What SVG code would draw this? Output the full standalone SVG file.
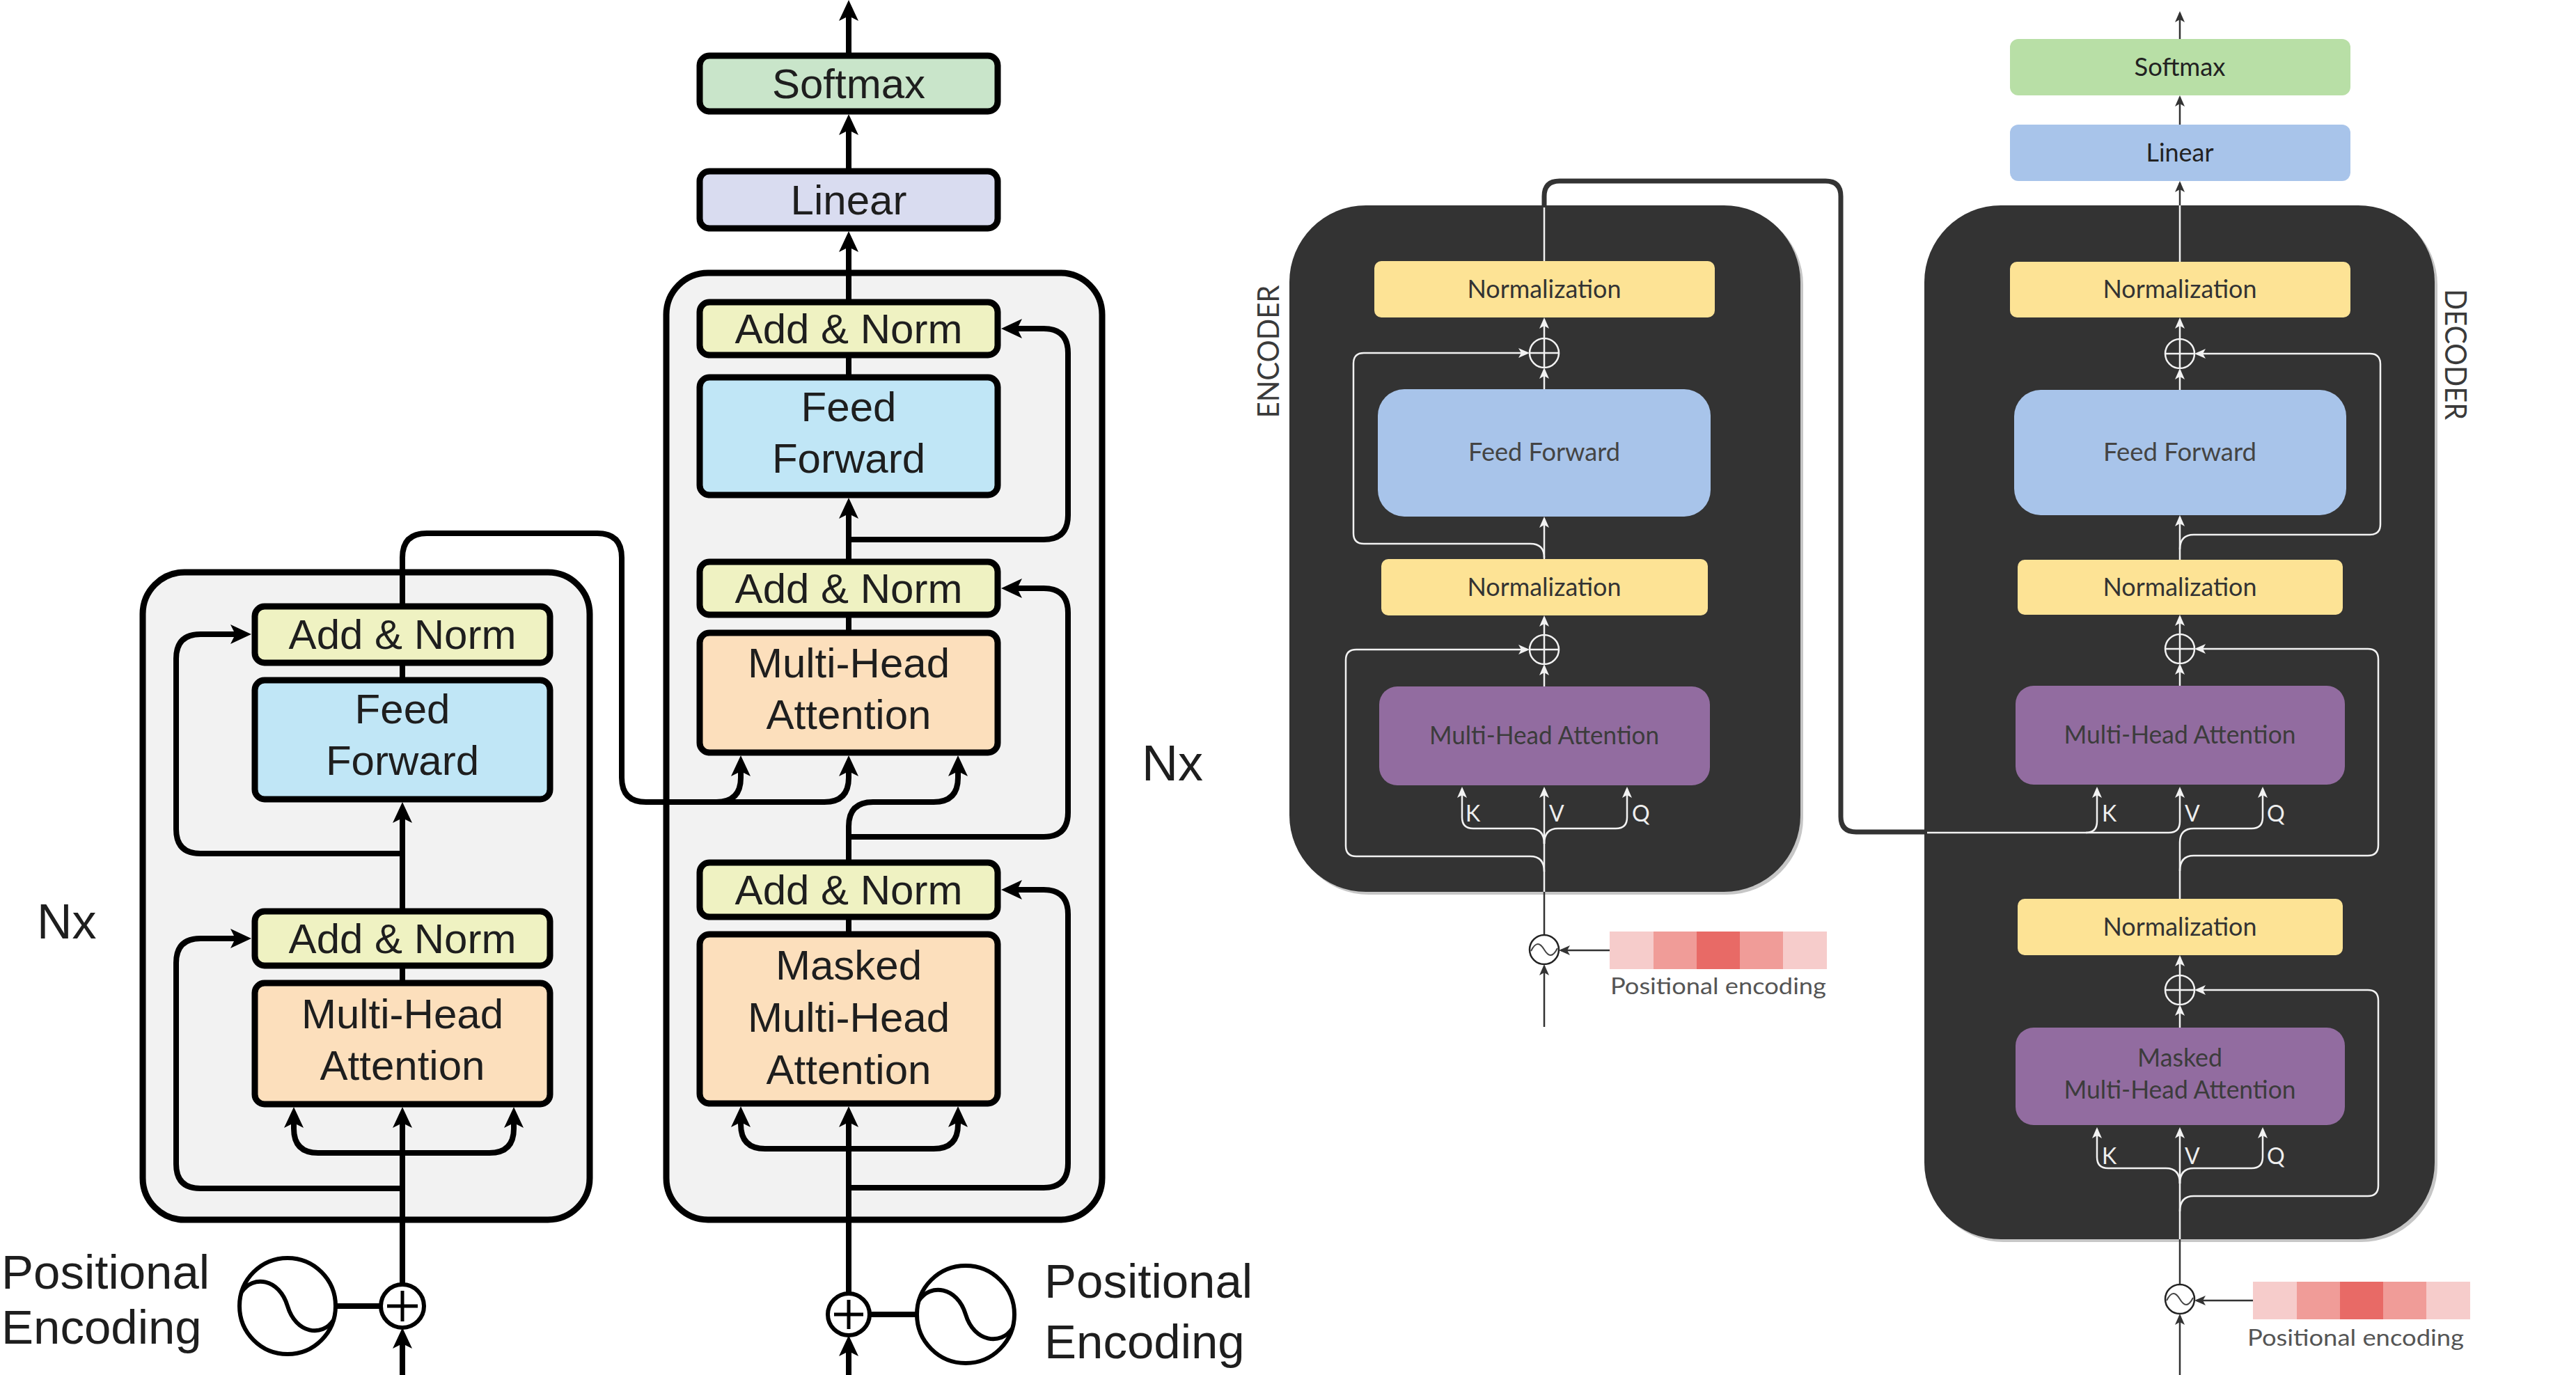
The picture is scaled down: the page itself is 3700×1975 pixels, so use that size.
<svg xmlns="http://www.w3.org/2000/svg" width="3700" height="1975" viewBox="0 0 3700 1975">
<style>
  .lt { font-family: "Liberation Sans", Arial, Helvetica, sans-serif; font-size: 60px; fill: #1e1e1e; text-anchor: middle; }
  .lbig { font-family: "Liberation Sans", Arial, Helvetica, sans-serif; font-size: 69px; fill: #1e1e1e; }
  .lbox { stroke: #000; stroke-width: 9; }
  .cont { fill: #f2f2f2; stroke: #000; stroke-width: 9; }
  .an { fill: #eff2c2; }
  .ff { fill: #c0e6f6; }
  .mh { fill: #fcdfbc; }
  .sm { fill: #c9e5ca; }
  .ln { fill: #d9dcf0; }
  .bl { fill: none; stroke: #000; stroke-width: 8; }
  .sym { fill: #fff; stroke: #000; stroke-width: 6; }
  .symw { fill: none; stroke: #000; stroke-width: 6; }
  .dark { fill: #333333; }
  .shadow { fill: #c6c6c6; }
  .rt { font-family: Lato, "Open Sans", "Noto Sans", sans-serif; font-size: 36px; text-anchor: middle; }
  .norm { fill: #fde395; }
  .rff { fill: #a8c4ea; }
  .rmh { fill: #926ca0; }
  .rsm { fill: #b8dfa6; }
  .wl { fill: none; stroke: #f2f2f2; stroke-width: 2.5; }
  .dl { fill: none; stroke: #333; stroke-width: 2.5; }
  .kvq { font-family: Lato, "Open Sans", "Noto Sans", sans-serif; font-size: 32px; fill: #eeeeee; }
  .side { font-family: Lato, "Open Sans", "Noto Sans", sans-serif; font-size: 42px; fill: #3a3a3a; text-anchor: middle; }
  .pe { font-family: Lato, "Open Sans", "Noto Sans", sans-serif; font-size: 32px; fill: #555; }
</style>
<defs>
  <marker id="ab" viewBox="0 0 30 28" refX="20" refY="14" markerWidth="30" markerHeight="28" markerUnits="userSpaceOnUse" orient="auto">
    <path d="M0,0 L30,14 L0,28 L7,14 z" fill="#000"/>
  </marker>
  <marker id="aw" viewBox="0 0 16 14" refX="13" refY="7" markerWidth="16" markerHeight="14" markerUnits="userSpaceOnUse" orient="auto">
    <path d="M0,0 L16,7 L0,14 L4,7 z" fill="#f2f2f2"/>
  </marker>
  <marker id="ad" viewBox="0 0 16 14" refX="13" refY="7" markerWidth="16" markerHeight="14" markerUnits="userSpaceOnUse" orient="auto">
    <path d="M0,0 L16,7 L0,14 L4,7 z" fill="#333"/>
  </marker>
</defs>

<rect width="3700" height="1975" fill="#ffffff"/>

<!-- ===== containers ===== -->
<g id="left-encoder-stack">
  <rect class="cont" x="205" y="822" width="642" height="930" rx="60"/>
</g>
<g id="left-decoder-stack">
  <rect class="cont" x="957" y="392" width="626" height="1360" rx="60"/>
</g>
<g id="right-encoder-stack">
  <rect class="shadow" x="1856" y="299" width="734" height="986" rx="110"/>
  <rect class="dark" x="1852" y="295" width="734" height="986" rx="110"/>
</g>
<g id="right-decoder-stack">
  <rect class="shadow" x="2768" y="299" width="733" height="1485" rx="110"/>
  <rect class="dark" x="2764" y="295" width="733" height="1485" rx="110"/>
</g>

<!-- ===== connectors ===== -->
<g id="connectors">
  <!-- left encoder -->
  <path class="bl" d="M578 1975 V1917" marker-end="url(#ab)"/>
  <path class="bl" d="M548 1876 H482"/>
  <path class="bl" d="M578 1845 V1600" marker-end="url(#ab)"/>
  <path class="bl" d="M578 1656 H457 Q422 1656 422 1621 V1600" marker-end="url(#ab)"/>
  <path class="bl" d="M578 1656 H703 Q738 1656 738 1621 V1600" marker-end="url(#ab)"/>
  <path class="bl" d="M578 1707 H288 Q253 1707 253 1672 V1383 Q253 1348 288 1348 H351" marker-end="url(#ab)"/>
  <path class="bl" d="M578 1412 V1387"/>
  <path class="bl" d="M578 1309 V1162" marker-end="url(#ab)"/>
  <path class="bl" d="M578 1226 H288 Q253 1226 253 1191 V946 Q253 911 288 911 H351" marker-end="url(#ab)"/>
  <path class="bl" d="M578 977 V952"/>
  <path class="bl" d="M578 871 V801 Q578 766 613 766 H858 Q893 766 893 801 V1117 Q893 1152 928 1152 H1029 Q1064 1152 1064 1117 V1095" marker-end="url(#ab)"/>
  <path class="bl" d="M1029 1152 H1184 Q1219 1152 1219 1117 V1095" marker-end="url(#ab)"/>
  <!-- left decoder -->
  <path class="bl" d="M1219 1975 V1928" marker-end="url(#ab)"/>
  <path class="bl" d="M1249 1888 H1317"/>
  <path class="bl" d="M1219 1858 V1599" marker-end="url(#ab)"/>
  <path class="bl" d="M1219 1650 H1099 Q1064 1650 1064 1615 V1599" marker-end="url(#ab)"/>
  <path class="bl" d="M1219 1650 H1341 Q1376 1650 1376 1615 V1599" marker-end="url(#ab)"/>
  <path class="bl" d="M1219 1706 H1499 Q1534 1706 1534 1671 V1313 Q1534 1278 1499 1278 H1448" marker-end="url(#ab)"/>
  <path class="bl" d="M1219 1342 V1317"/>
  <path class="bl" d="M1219 1239 V1187 Q1219 1152 1254 1152 H1341 Q1376 1152 1376 1117 V1095" marker-end="url(#ab)"/>
  <path class="bl" d="M1219 1202 H1499 Q1534 1202 1534 1167 V880 Q1534 845 1499 845 H1448" marker-end="url(#ab)"/>
  <path class="bl" d="M1219 909 V883"/>
  <path class="bl" d="M1219 807 V725" marker-end="url(#ab)"/>
  <path class="bl" d="M1219 775 H1499 Q1534 775 1534 740 V507 Q1534 472 1499 472 H1448" marker-end="url(#ab)"/>
  <path class="bl" d="M1219 542 V510"/>
  <path class="bl" d="M1219 434 V342" marker-end="url(#ab)"/>
  <path class="bl" d="M1219 246 V174" marker-end="url(#ab)"/>
  <path class="bl" d="M1219 80 V10" marker-end="url(#ab)"/>

  <!-- right encoder -->
  <path class="dl" d="M2218 1475 V1388" marker-end="url(#ad)"/>
  <path class="dl" d="M2312 1365 H2242" marker-end="url(#ad)"/>
  <path class="dl" d="M2218 1343 V1281"/>
  <path class="wl" d="M2218 1281 V1133" marker-end="url(#aw)"/>
  <path class="wl" d="M2218 1212 Q2218 1190 2198 1190 H2116 Q2100 1190 2100 1174 V1133" marker-end="url(#aw)"/>
  <path class="wl" d="M2218 1212 Q2218 1190 2238 1190 H2321 Q2337 1190 2337 1174 V1133" marker-end="url(#aw)"/>
  <path class="wl" d="M2218 1252 Q2218 1230 2198 1230 H1948 Q1933 1230 1933 1215 V948 Q1933 933 1948 933 H2194" marker-end="url(#aw)"/>
  <path class="wl" d="M2218 986 V957" marker-end="url(#aw)"/>
  <path class="wl" d="M2218 912 V887" marker-end="url(#aw)"/>
  <path class="wl" d="M2218 803 V745" marker-end="url(#aw)"/>
  <path class="wl" d="M2218 801 Q2218 781 2198 781 H1959 Q1944 781 1944 766 V522 Q1944 507 1959 507 H2194" marker-end="url(#aw)"/>
  <path class="wl" d="M2218 559 V531" marker-end="url(#aw)"/>
  <path class="wl" d="M2218 486 V459" marker-end="url(#aw)"/>
  <path class="wl" d="M2218 375 V298"/>
  <path fill="none" stroke="#333" stroke-width="7" d="M2218 298 V282 Q2218 260 2240 260 H2622 Q2644 260 2644 282 V1173 Q2644 1195 2666 1195 H2768"/>

  <!-- right decoder -->
  <path class="dl" d="M3131 1975 V1890" marker-end="url(#ad)"/>
  <path class="dl" d="M3236 1868 H3155" marker-end="url(#ad)"/>
  <path class="dl" d="M3131 1845 V1780"/>
  <path class="wl" d="M3131 1780 V1622" marker-end="url(#aw)"/>
  <path class="wl" d="M3131 1700 Q3131 1678 3111 1678 H3028 Q3012 1678 3012 1662 V1622" marker-end="url(#aw)"/>
  <path class="wl" d="M3131 1700 Q3131 1678 3151 1678 H3234 Q3250 1678 3250 1662 V1622" marker-end="url(#aw)"/>
  <path class="wl" d="M3131 1740 Q3131 1718 3151 1718 H3401 Q3416 1718 3416 1703 V1437 Q3416 1422 3401 1422 H3155" marker-end="url(#aw)"/>
  <path class="wl" d="M3131 1476 V1446" marker-end="url(#aw)"/>
  <path class="wl" d="M3131 1401 V1375" marker-end="url(#aw)"/>
  <path class="wl" d="M3131 1291 V1210 Q3131 1190 3151 1190 H3234 Q3250 1190 3250 1174 V1133" marker-end="url(#aw)"/>
  <path class="wl" d="M3131 1251 Q3131 1229 3151 1229 H3401 Q3416 1229 3416 1214 V947 Q3416 932 3401 932 H3155" marker-end="url(#aw)"/>
  <path class="wl" d="M2768 1196 H3115 Q3131 1196 3131 1180 V1133" marker-end="url(#aw)"/>
  <path class="wl" d="M2996 1196 Q3012 1196 3012 1180 V1133" marker-end="url(#aw)"/>
  <path class="wl" d="M3131 985 V956" marker-end="url(#aw)"/>
  <path class="wl" d="M3131 911 V886" marker-end="url(#aw)"/>
  <path class="wl" d="M3131 804 V743" marker-end="url(#aw)"/>
  <path class="wl" d="M3131 789 Q3131 768 3151 768 H3404 Q3419 768 3419 753 V523 Q3419 508 3404 508 H3155" marker-end="url(#aw)"/>
  <path class="wl" d="M3131 560 V532" marker-end="url(#aw)"/>
  <path class="wl" d="M3131 487 V459" marker-end="url(#aw)"/>
  <path class="wl" d="M3131 376 V295"/>
  <path class="dl" d="M3131 295 V263" marker-end="url(#ad)"/>
  <path class="dl" d="M3131 179 V140" marker-end="url(#ad)"/>
  <path class="dl" d="M3131 56 V19" marker-end="url(#ad)"/>
</g>

<!-- ===== left encoder nodes ===== -->
<g id="enc-addnorm-2"><rect class="lbox an" x="366" y="871" width="424" height="81" rx="14"/><text class="lt" x="578" y="932">Add &amp; Norm</text></g>
<g id="enc-feedforward"><rect class="lbox ff" x="366" y="977" width="424" height="171" rx="14"/><text class="lt" x="578" y="1039">Feed</text><text class="lt" x="578" y="1113">Forward</text></g>
<g id="enc-addnorm-1"><rect class="lbox an" x="366" y="1309" width="424" height="78" rx="14"/><text class="lt" x="578" y="1369">Add &amp; Norm</text></g>
<g id="enc-mha"><rect class="lbox mh" x="366" y="1412" width="424" height="174" rx="14"/><text class="lt" x="578" y="1477">Multi-Head</text><text class="lt" x="578" y="1551">Attention</text></g>
<g id="enc-plus"><circle class="sym" cx="578" cy="1876" r="31"/><path stroke="#000" stroke-width="5" d="M556 1876 H600 M578 1854 V1898"/></g>
<g id="enc-posenc"><circle class="sym" cx="413" cy="1876" r="69"/><path class="symw" d="M347 1856 C363 1831 401 1836 413 1876 C425 1916 463 1921 479 1896"/></g>
<g id="enc-labels"><text class="lbig" x="53" y="1348" style="font-size:70px">Nx</text><text class="lbig" x="2" y="1851">Positional</text><text class="lbig" x="2" y="1930">Encoding</text></g>

<!-- ===== left decoder nodes ===== -->
<g id="dec-softmax"><rect class="lbox sm" x="1005" y="80" width="428" height="80" rx="14"/><text class="lt" x="1219" y="141">Softmax</text></g>
<g id="dec-linear"><rect class="lbox ln" x="1005" y="246" width="428" height="82" rx="14"/><text class="lt" x="1219" y="308">Linear</text></g>
<g id="dec-addnorm-3"><rect class="lbox an" x="1005" y="434" width="428" height="76" rx="14"/><text class="lt" x="1219" y="493">Add &amp; Norm</text></g>
<g id="dec-feedforward"><rect class="lbox ff" x="1005" y="542" width="428" height="169" rx="14"/><text class="lt" x="1219" y="605">Feed</text><text class="lt" x="1219" y="679">Forward</text></g>
<g id="dec-addnorm-2"><rect class="lbox an" x="1005" y="807" width="428" height="76" rx="14"/><text class="lt" x="1219" y="866">Add &amp; Norm</text></g>
<g id="dec-mha"><rect class="lbox mh" x="1005" y="909" width="428" height="172" rx="14"/><text class="lt" x="1219" y="973">Multi-Head</text><text class="lt" x="1219" y="1047">Attention</text></g>
<g id="dec-addnorm-1"><rect class="lbox an" x="1005" y="1239" width="428" height="78" rx="14"/><text class="lt" x="1219" y="1299">Add &amp; Norm</text></g>
<g id="dec-masked-mha"><rect class="lbox mh" x="1005" y="1342" width="428" height="243" rx="14"/><text class="lt" x="1219" y="1407">Masked</text><text class="lt" x="1219" y="1482">Multi-Head</text><text class="lt" x="1219" y="1557">Attention</text></g>
<g id="dec-plus"><circle class="sym" cx="1219" cy="1888" r="30"/><path stroke="#000" stroke-width="5" d="M1198 1888 H1240 M1219 1867 V1909"/></g>
<g id="dec-posenc"><circle class="sym" cx="1387" cy="1888" r="70"/><path class="symw" d="M1320 1868 C1336 1843 1375 1848 1387 1888 C1399 1928 1438 1933 1454 1908"/></g>
<g id="dec-labels"><text class="lbig" x="1640" y="1121" style="font-size:72px">Nx</text><text class="lbig" x="1500" y="1864">Positional</text><text class="lbig" x="1500" y="1951">Encoding</text></g>

<!-- ===== right encoder nodes ===== -->
<g id="r-enc-norm-2"><rect class="norm" x="1974" y="375" width="489" height="81" rx="10"/><text class="rt" x="2218" y="428" fill="#333" textLength="221" lengthAdjust="spacingAndGlyphs">Normalization</text></g>
<g id="r-enc-ff"><rect class="rff" x="1979" y="559" width="478" height="183" rx="38"/><text class="rt" x="2218" y="662" fill="#444" textLength="218" lengthAdjust="spacingAndGlyphs">Feed Forward</text></g>
<g id="r-enc-norm-1"><rect class="norm" x="1984" y="803" width="469" height="81" rx="10"/><text class="rt" x="2218" y="856" fill="#333" textLength="221" lengthAdjust="spacingAndGlyphs">Normalization</text></g>
<g id="r-enc-mha"><rect class="rmh" x="1981" y="986" width="475" height="142" rx="26"/><text class="rt" x="2218" y="1069" fill="#3c3c3c" textLength="330" lengthAdjust="spacingAndGlyphs">Multi-Head Attention</text></g>
<g id="r-enc-plus-2"><circle cx="2218" cy="507" r="21" class="wl"/><path class="wl" d="M2197 507 H2239 M2218 486 V528"/></g>
<g id="r-enc-plus-1"><circle cx="2218" cy="933" r="21" class="wl"/><path class="wl" d="M2197 933 H2239 M2218 912 V954"/></g>
<g id="r-enc-kvq"><text class="kvq" x="2105" y="1180">K</text><text class="kvq" x="2225" y="1180">V</text><text class="kvq" x="2344" y="1180">Q</text></g>
<g id="r-enc-posenc">
  <circle cx="2218" cy="1364" r="21" fill="#fff" stroke="#222" stroke-width="2.5"/>
  <path fill="none" stroke="#444" stroke-width="2" d="M2199 1366 C2206 1352 2212 1354 2218 1364 C2224 1374 2230 1376 2237 1362"/>
  <rect x="2312" y="1338" width="63" height="54" fill="#f6cccb"/>
  <rect x="2375" y="1338" width="62" height="54" fill="#f09c98"/>
  <rect x="2437" y="1338" width="62" height="54" fill="#e86a66"/>
  <rect x="2499" y="1338" width="62" height="54" fill="#f09c98"/>
  <rect x="2561" y="1338" width="63" height="54" fill="#f6cccb"/>
  <text class="pe" x="2313" y="1428" textLength="310" lengthAdjust="spacingAndGlyphs">Positional encoding</text>
</g>
<g id="r-enc-label"><text class="side" transform="translate(1837 505) rotate(-90)" textLength="191" lengthAdjust="spacingAndGlyphs">ENCODER</text></g>

<!-- ===== right decoder nodes ===== -->
<g id="r-dec-softmax"><rect class="rsm" x="2887" y="56" width="489" height="81" rx="12"/><text class="rt" x="3131" y="109" fill="#222" textLength="131" lengthAdjust="spacingAndGlyphs">Softmax</text></g>
<g id="r-dec-linear"><rect class="rff" x="2887" y="179" width="489" height="81" rx="12"/><text class="rt" x="3131" y="232" fill="#222" textLength="97" lengthAdjust="spacingAndGlyphs">Linear</text></g>
<g id="r-dec-norm-3"><rect class="norm" x="2887" y="376" width="489" height="80" rx="10"/><text class="rt" x="3131" y="428" fill="#333" textLength="221" lengthAdjust="spacingAndGlyphs">Normalization</text></g>
<g id="r-dec-ff"><rect class="rff" x="2893" y="560" width="477" height="180" rx="38"/><text class="rt" x="3131" y="662" fill="#444" textLength="220" lengthAdjust="spacingAndGlyphs">Feed Forward</text></g>
<g id="r-dec-norm-2"><rect class="norm" x="2898" y="804" width="467" height="79" rx="10"/><text class="rt" x="3131" y="856" fill="#333" textLength="221" lengthAdjust="spacingAndGlyphs">Normalization</text></g>
<g id="r-dec-mha"><rect class="rmh" x="2895" y="985" width="473" height="142" rx="26"/><text class="rt" x="3131" y="1068" fill="#3c3c3c" textLength="333" lengthAdjust="spacingAndGlyphs">Multi-Head Attention</text></g>
<g id="r-dec-norm-1"><rect class="norm" x="2898" y="1291" width="467" height="81" rx="10"/><text class="rt" x="3131" y="1344" fill="#333" textLength="221" lengthAdjust="spacingAndGlyphs">Normalization</text></g>
<g id="r-dec-masked-mha"><rect class="rmh" x="2895" y="1476" width="473" height="140" rx="26"/><text class="rt" x="3131" y="1532" fill="#3c3c3c" textLength="122" lengthAdjust="spacingAndGlyphs">Masked</text><text class="rt" x="3131" y="1578" fill="#3c3c3c" textLength="333" lengthAdjust="spacingAndGlyphs">Multi-Head Attention</text></g>
<g id="r-dec-plus-3"><circle cx="3131" cy="508" r="21" class="wl"/><path class="wl" d="M3110 508 H3152 M3131 487 V529"/></g>
<g id="r-dec-plus-2"><circle cx="3131" cy="932" r="21" class="wl"/><path class="wl" d="M3110 932 H3152 M3131 911 V953"/></g>
<g id="r-dec-plus-1"><circle cx="3131" cy="1422" r="21" class="wl"/><path class="wl" d="M3110 1422 H3152 M3131 1401 V1443"/></g>
<g id="r-dec-kvq-2"><text class="kvq" x="3019" y="1180">K</text><text class="kvq" x="3138" y="1180">V</text><text class="kvq" x="3256" y="1180">Q</text></g>
<g id="r-dec-kvq-1"><text class="kvq" x="3019" y="1672">K</text><text class="kvq" x="3138" y="1672">V</text><text class="kvq" x="3256" y="1672">Q</text></g>
<g id="r-dec-posenc">
  <circle cx="3131" cy="1866" r="21" fill="#fff" stroke="#222" stroke-width="2.5"/>
  <path fill="none" stroke="#444" stroke-width="2" d="M3112 1868 C3119 1854 3125 1856 3131 1866 C3137 1876 3143 1878 3150 1864"/>
  <rect x="3236" y="1841" width="63" height="54" fill="#f6cccb"/>
  <rect x="3299" y="1841" width="62" height="54" fill="#f09c98"/>
  <rect x="3361" y="1841" width="62" height="54" fill="#e86a66"/>
  <rect x="3423" y="1841" width="62" height="54" fill="#f09c98"/>
  <rect x="3485" y="1841" width="63" height="54" fill="#f6cccb"/>
  <text class="pe" x="3228" y="1933" textLength="311" lengthAdjust="spacingAndGlyphs">Positional encoding</text>
</g>
<g id="r-dec-label"><text class="side" transform="translate(3512 509) rotate(90)" textLength="188" lengthAdjust="spacingAndGlyphs">DECODER</text></g>
</svg>
